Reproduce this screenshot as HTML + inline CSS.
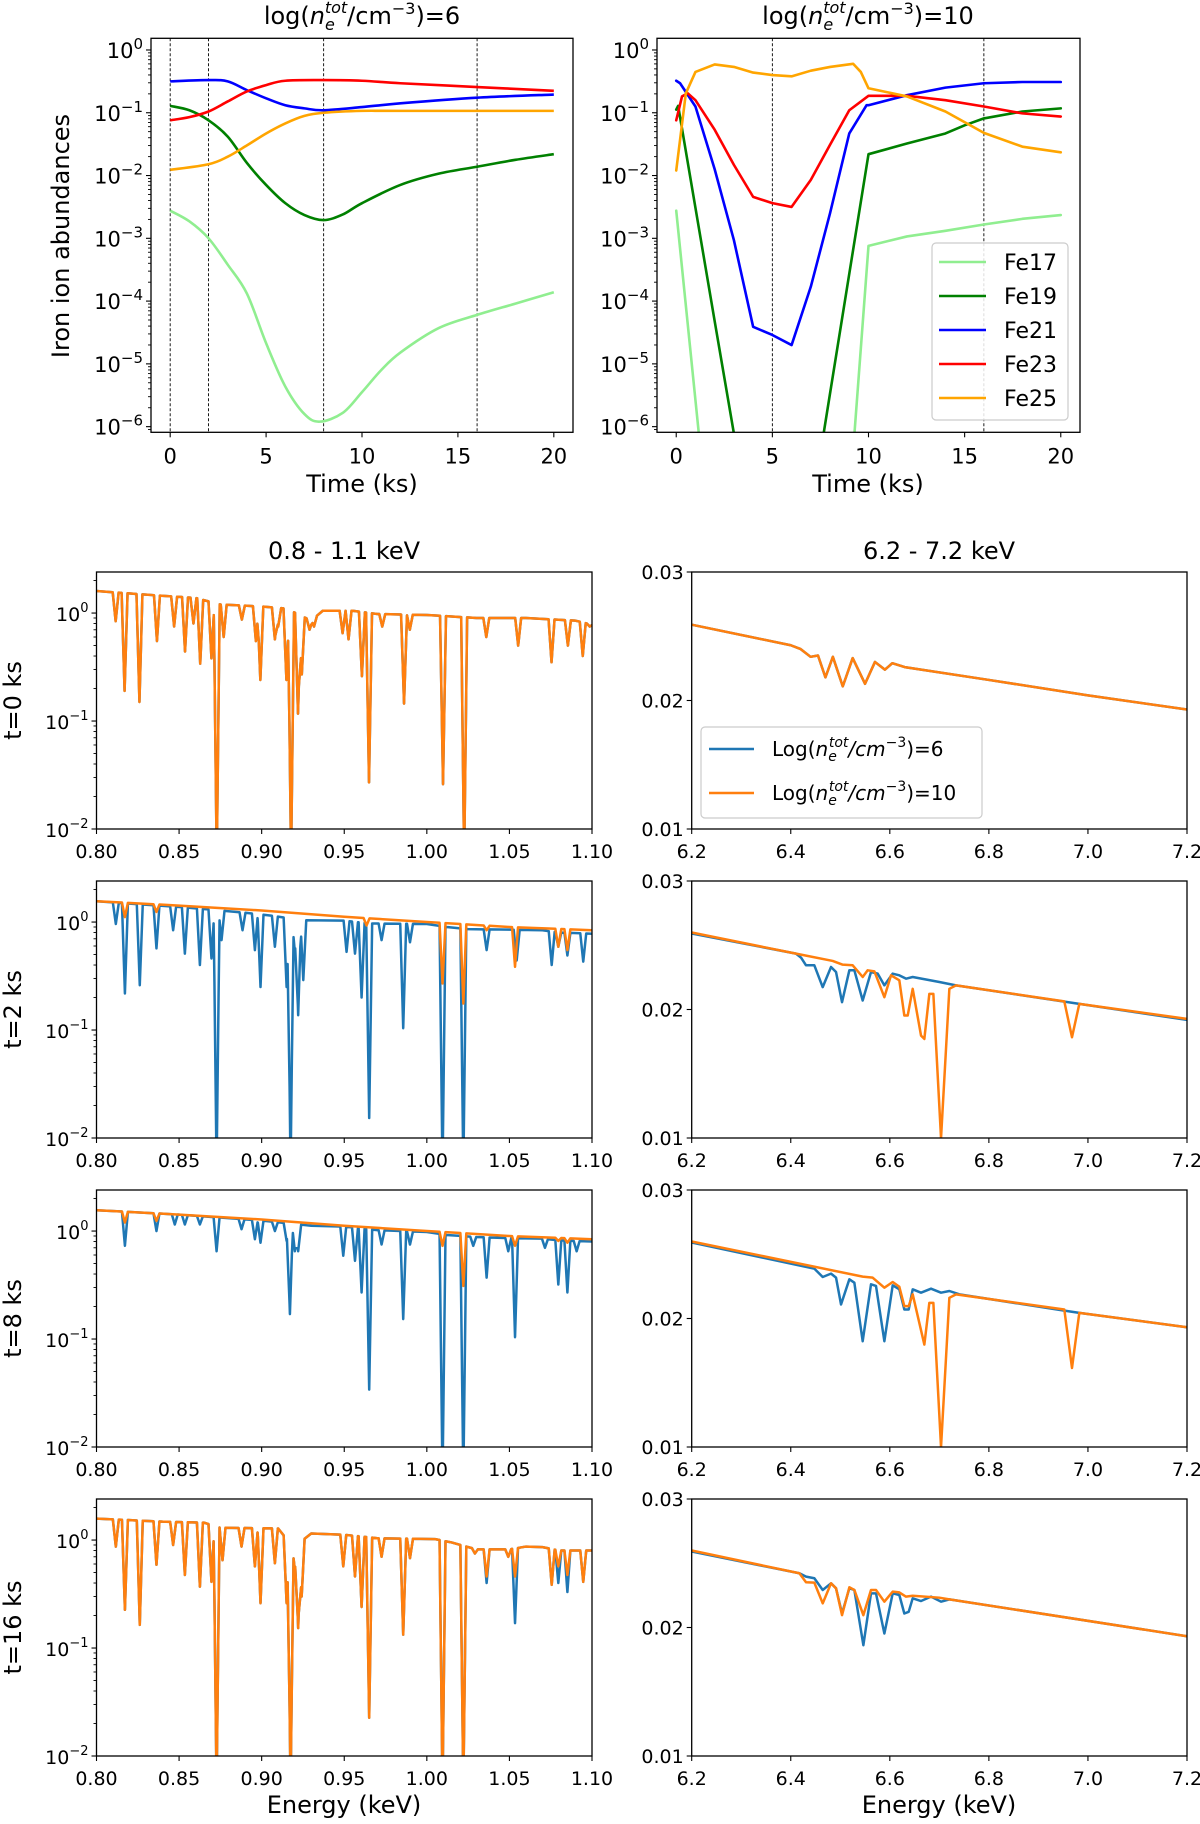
<!DOCTYPE html>
<html><head><meta charset="utf-8"><style>
html,body{margin:0;padding:0;background:#fff;}
svg{display:block;font-family:"DejaVu Sans","Liberation Sans",sans-serif;}
</style></head><body>
<svg id="fig" xmlns="http://www.w3.org/2000/svg" width="1200" height="1824" viewBox="0 0 1200 1824">
<rect x="0" y="0" width="1200" height="1824" fill="#fff"/>
<text x="362" y="24" font-size="24" text-anchor="middle">log(<tspan font-style="italic">n</tspan><tspan font-size="16" dy="6" font-style="italic">e</tspan><tspan font-size="16" dx="-10" dy="-17" font-style="italic">tot</tspan><tspan dy="11">/cm</tspan><tspan font-size="16" dy="-10">−3</tspan><tspan dy="10">)=6</tspan></text>
<text x="868" y="24" font-size="24" text-anchor="middle">log(<tspan font-style="italic">n</tspan><tspan font-size="16" dy="6" font-style="italic">e</tspan><tspan font-size="16" dx="-10" dy="-17" font-style="italic">tot</tspan><tspan dy="11">/cm</tspan><tspan font-size="16" dy="-10">−3</tspan><tspan dy="10">)=10</tspan></text>
<text transform="translate(69,236) rotate(-90)" font-size="24" text-anchor="middle">Iron ion abundances</text>
<text x="362" y="492" font-size="24" text-anchor="middle">Time (ks)</text>
<text x="868" y="492" font-size="24" text-anchor="middle">Time (ks)</text>
<text x="344" y="559" font-size="24" text-anchor="middle">0.8 - 1.1 keV</text>
<text x="939" y="559" font-size="24" text-anchor="middle">6.2 - 7.2 keV</text>
<text x="344" y="1813" font-size="24" text-anchor="middle">Energy (keV)</text>
<text x="939" y="1813" font-size="24" text-anchor="middle">Energy (keV)</text>
</svg>
<script>
// ---------- Top panels: ion abundances (log10 values) ----------
const lowFe17T=[0,1,2,3,4,5,6,7,7.8,9,10,11,12,14,16,18,20];
const lowFe17V=[-2.56,-2.73,-3.0,-3.42,-3.88,-4.67,-5.36,-5.8,-5.92,-5.78,-5.45,-5.1,-4.82,-4.43,-4.22,-4.04,-3.86];
const lowFe19T=[0,1,2,3,4,5,6,7,8,9,10,12,14,16,18,20];
const lowFe19V=[-0.89,-0.96,-1.12,-1.38,-1.8,-2.15,-2.44,-2.63,-2.71,-2.62,-2.44,-2.15,-1.97,-1.86,-1.75,-1.66];
const lowFe21T=[0,2,3,4,5,6,7,8,10,12,16,20];
const lowFe21V=[-0.5,-0.48,-0.5,-0.64,-0.77,-0.88,-0.93,-0.96,-0.91,-0.85,-0.76,-0.71];
const lowFe23T=[0,1,2,3,4,5,6,8,10,12,16,20];
const lowFe23V=[-1.12,-1.07,-0.98,-0.82,-0.66,-0.56,-0.49,-0.48,-0.49,-0.53,-0.59,-0.65];
const lowFe25T=[0,2,3,4,5,6,7,8,10,12,20];
const lowFe25V=[-1.91,-1.82,-1.7,-1.52,-1.33,-1.17,-1.05,-1.0,-0.97,-0.97,-0.97];

const highFe17T=[0,2,8,10,12,14,16,18,20];
const highFe17V=[-2.56,-8.6,-11.3,-3.12,-2.97,-2.88,-2.78,-2.69,-2.63];
const highFe19T=[0,0.1,2,4,6,8,10,12,14,15,16,18,20];
const highFe19V=[-0.95,-0.89,-4.32,-7.9,-9.3,-5.47,-1.66,-1.49,-1.33,-1.2,-1.09,-0.98,-0.93];
const highFe21T=[0,0.2,1,2,3,4,5,6,7,8,9,9.9,10,12,14,16,18,20];
const highFe21V=[-0.49,-0.53,-0.9,-1.9,-3.03,-4.41,-4.54,-4.7,-3.77,-2.6,-1.33,-0.88,-0.88,-0.72,-0.6,-0.53,-0.51,-0.51];
const highFe23T=[0,0.3,0.6,1,2,3,4,5,6,7,8,9,10,12,14,16,18,20];
const highFe23V=[-1.12,-0.74,-0.69,-0.8,-1.27,-1.83,-2.34,-2.44,-2.5,-2.07,-1.51,-0.96,-0.73,-0.73,-0.8,-0.9,-1.01,-1.06];
const highFe25T=[0,0.2,0.5,1,2,3,4,5,6,7,8,9.2,9.6,10,12,14,16,18,20];
const highFe25V=[-1.92,-1.43,-0.69,-0.35,-0.23,-0.27,-0.36,-0.4,-0.42,-0.33,-0.27,-0.22,-0.35,-0.61,-0.74,-0.98,-1.32,-1.54,-1.63];

const lowSnapshotTimes=[0,2,8,16];
const highSnapshotTimes=[5,16];
const timeTicks=[0,5,10,15,20];
const ionNames=['Fe17','Fe19','Fe21','Fe23','Fe25'];

// ---------- Soft band (0.8-1.1 keV) ----------
const softT0ContE=[0.80,0.83,0.86,0.875,0.90,0.915,0.93,0.937,0.955,0.97,1.00,1.03,1.06,1.09,1.10];
const softT0ContF=[1.6,1.48,1.38,1.2,1.15,1.1,0.85,1.05,1.05,0.98,0.96,0.9,0.9,0.85,0.78];
const softT0LineE=[0.8116,0.817,0.826,0.8366,0.847,0.8536,0.8587,0.8628,0.8696,0.8728,0.877,0.888,0.8965,0.8992,0.908,0.910,0.915,0.9178,0.922,0.9243,0.929,0.9317,0.949,0.9526,0.9607,0.965,0.973,0.9862,0.9897,1.0098,1.0226,1.036,1.0553,1.0755,1.0854,1.0944,1.0986];
const softT0LineMin=[0.84,0.19,0.15,0.55,0.75,0.44,0.8,0.34,0.38,0.005,0.6,0.87,0.55,0.24,0.57,0.75,0.24,0.005,0.117,0.27,0.7,0.75,0.65,0.57,0.26,0.027,0.75,0.145,0.7,0.026,0.005,0.6,0.5,0.35,0.5,0.4,0.75];

const softOrangeContE=[0.80,0.85,0.90,0.95,1.00,1.05,1.10];
const softOrangeContF=[1.56,1.42,1.28,1.12,1.0,0.9,0.84];

const softT2BlueContE=[0.80,0.82,0.85,0.87,0.89,0.905,0.925,0.95,0.965,1.00,1.012,1.025,1.05,1.07,1.08,1.10];
const softT2BlueContF=[1.56,1.48,1.38,1.3,1.22,1.15,1.04,1.03,0.97,0.96,0.9,0.86,0.85,0.84,0.8,0.78];
const softT2BlueLineE=[0.8117,0.8172,0.8262,0.8363,0.8464,0.8535,0.8626,0.8696,0.8727,0.8757,0.8884,0.8959,0.8993,0.9080,0.9151,0.9175,0.9201,0.9221,0.9252,0.9514,0.9565,0.9605,0.9651,0.9726,0.9857,0.9898,1.0095,1.0221,1.0362,1.0544,1.0756,1.0796,1.0851,1.0947];
const softT2BlueLineMin=[0.96,0.218,0.26,0.57,0.84,0.51,0.40,0.46,0.005,0.68,0.84,0.55,0.25,0.59,0.25,0.005,0.53,0.137,0.29,0.53,0.51,0.20,0.0153,0.68,0.104,0.65,0.005,0.005,0.55,0.44,0.40,0.59,0.49,0.43];
const softT2OrangeLineE=[0.8172,0.8363,0.9635,1.0095,1.0221,1.0362,1.0534,1.0796,1.0851];
const softT2OrangeLineMin=[1.11,1.24,0.93,0.27,0.176,0.84,0.385,0.59,0.55];

const softT8BlueContE=[0.80,0.85,0.90,0.93,0.95,0.97,1.00,1.012,1.03,1.05,1.07,1.08,1.10];
const softT8BlueContF=[1.56,1.42,1.25,1.12,1.1,1.02,0.98,0.92,0.88,0.86,0.85,0.82,0.8];
const softT8BlueLineE=[0.8172,0.8363,0.8474,0.8535,0.8626,0.8727,0.8878,0.8959,0.8993,0.9080,0.9151,0.9171,0.9201,0.9221,0.9494,0.9565,0.9605,0.9651,0.9726,0.9857,0.9898,1.0095,1.0221,1.0281,1.0362,1.0493,1.0534,1.0715,1.0796,1.0851,1.0907];
const softT8BlueLineMin=[0.73,1.0,1.15,1.15,1.15,0.65,1.04,0.84,0.78,1.0,0.81,0.17,0.65,0.65,0.59,0.53,0.27,0.034,0.75,0.153,0.75,0.005,0.005,0.73,0.37,0.65,0.104,0.70,0.32,0.27,0.65];
const softT8OrangeLineE=[0.8172,0.8363,1.0095,1.0221,1.0534,1.0796,1.0851];
const softT8OrangeLineMin=[1.2,1.24,0.73,0.31,0.73,0.81,0.78];

const softT16ContE=[0.80,0.84,0.865,0.875,0.91,0.918,0.925,0.93,0.95,0.97,1.005,1.015,1.03,1.05,1.06,1.07,1.08,1.10];
const softT16ContF=[1.58,1.48,1.45,1.3,1.28,0.9,1.0,1.15,1.12,1.04,1.02,0.95,0.82,0.82,0.87,0.86,0.8,0.8];
const softT16LineE=[0.8117,0.8172,0.8262,0.8363,0.8464,0.8535,0.8626,0.8696,0.8727,0.8763,0.8878,0.8959,0.8993,0.9080,0.9151,0.9175,0.9201,0.9221,0.9242,0.9494,0.9565,0.9605,0.9651,0.9726,0.9857,0.9898,1.0095,1.0221,1.0291,1.0362,1.0493,1.0534,1.0756,1.0796,1.0851,1.0947];
const softT16OrangeLineMin=[0.87,0.226,0.164,0.59,0.90,0.475,0.37,0.41,0.005,0.65,0.87,0.57,0.26,0.61,0.26,0.005,0.53,0.153,0.30,0.57,0.46,0.24,0.0226,0.70,0.133,0.68,0.005,0.005,0.75,0.46,0.70,0.46,0.385,0.57,0.475,0.41];
const softT16BlueLineMin=[0.87,0.226,0.164,0.59,0.90,0.475,0.37,0.41,0.005,0.65,0.87,0.57,0.26,0.61,0.26,0.005,0.53,0.153,0.30,0.57,0.46,0.24,0.0226,0.70,0.133,0.68,0.005,0.005,0.75,0.40,0.70,0.17,0.385,0.40,0.33,0.41];

const softTicks=[0.80,0.85,0.90,0.95,1.00,1.05,1.10];
const softTickLabels=['0.80','0.85','0.90','0.95','1.00','1.05','1.10'];

// ---------- Hard band (6.2-7.2 keV) ----------
const hardT0E=[6.2,6.4,6.42,6.44,6.455,6.47,6.485,6.505,6.525,6.55,6.57,6.59,6.605,6.63,6.8,7.0,7.2];
const hardT0F=[0.0259,0.0243,0.0240,0.0234,0.0235,0.0218,0.0234,0.0211,0.0233,0.0213,0.0230,0.0224,0.0229,0.0226,0.0216,0.0204,0.0193];
const hardT2BlueE=[6.2,6.4106,6.4207,6.4308,6.4476,6.4645,6.4813,6.4914,6.5035,6.5183,6.5284,6.5452,6.5620,6.5755,6.5890,6.6058,6.6192,6.6327,6.6462,6.7,6.7336,6.9490,6.9826,7.2];
const hardT2BlueF=[0.02591,0.02435,0.02404,0.02344,0.02344,0.02174,0.02331,0.02292,0.02057,0.02305,0.02305,0.0207,0.02292,0.02279,0.02188,0.02279,0.02266,0.0224,0.02253,0.02214,0.02188,0.02063,0.02044,0.01919];
const hardT2OrangeE=[6.2,6.4106,6.4847,6.5048,6.525,6.5452,6.5553,6.5688,6.5890,6.6024,6.6192,6.6293,6.6361,6.6462,6.6630,6.6697,6.6798,6.6879,6.7034,6.7202,6.7336,6.9523,6.9678,6.9826,7.2];
const hardT2OrangeF=[0.02599,0.02435,0.02378,0.02349,0.02344,0.02253,0.02305,0.02297,0.02096,0.02266,0.02227,0.01953,0.01953,0.02161,0.01797,0.01771,0.02122,0.02122,0.01,0.02161,0.02188,0.02063,0.01784,0.02044,0.01927];
const hardT8BlueE=[6.2,6.4476,6.4645,6.4813,6.4914,6.5015,6.5183,6.5284,6.5452,6.5620,6.5721,6.5890,6.6058,6.6192,6.6293,6.6381,6.6462,6.6630,6.6832,6.7034,6.7202,6.7404,6.9490,6.9826,7.2];
const hardT8BlueF=[0.02591,0.02388,0.02323,0.02349,0.02318,0.02109,0.02305,0.02279,0.01823,0.02266,0.02253,0.01823,0.02258,0.02227,0.0207,0.0207,0.02227,0.02201,0.02232,0.02201,0.02214,0.02188,0.02063,0.02044,0.01932];
const hardT8OrangeE=[6.2,6.5452,6.5654,6.5890,6.6058,6.6192,6.6293,6.6381,6.6462,6.6697,6.6798,6.6879,6.7034,6.7202,6.7336,6.9523,6.9678,6.9826,7.2];
const hardT8OrangeF=[0.02599,0.02326,0.02318,0.0224,0.02284,0.02247,0.02096,0.02096,0.02188,0.01797,0.02122,0.02122,0.01,0.02161,0.02188,0.0207,0.01615,0.02044,0.01932];
const hardT16BlueE=[6.2,6.4174,6.4308,6.4476,6.4645,6.4813,6.4914,6.5035,6.5183,6.5284,6.5466,6.5620,6.5721,6.5890,6.6058,6.6192,6.6293,6.6381,6.6462,6.6630,6.6832,6.7034,6.7202,7.2];
const hardT16BlueF=[0.02591,0.02422,0.02396,0.02383,0.02292,0.02344,0.02305,0.02109,0.02305,0.02292,0.01862,0.02266,0.02266,0.01953,0.02266,0.02253,0.02109,0.02122,0.02227,0.02206,0.0224,0.02201,0.02219,0.01932];
const hardT16OrangeE=[6.2,6.4174,6.4308,6.4476,6.4645,6.4813,6.4914,6.5035,6.5183,6.5284,6.5466,6.5620,6.5721,6.5890,6.6058,6.6192,6.6327,6.6462,6.7,6.7202,7.2];
const hardT16OrangeF=[0.02599,0.02422,0.02352,0.02349,0.02188,0.02344,0.02305,0.02096,0.02313,0.02292,0.02096,0.02292,0.02292,0.02201,0.02279,0.02273,0.0224,0.02247,0.02232,0.02219,0.01932];
const hardTicks=[6.2,6.4,6.6,6.8,7.0,7.2];
const hardTickLabels=['6.2','6.4','6.6','6.8','7.0','7.2'];
const hardYTicks=[0.01,0.02,0.03];
const hardYTickLabels=['0.01','0.02','0.03'];
const rowLabels=['t=0 ks','t=2 ks','t=8 ks','t=16 ks'];

// ---------- drawing ----------
const NS='http://www.w3.org/2000/svg';
const svg=document.getElementById('fig');
function mk(tag,attrs,parent){const e=document.createElementNS(NS,tag);for(const k in attrs)e.setAttribute(k,attrs[k]);(parent||svg).appendChild(e);return e;}
let clipN=0;
function makeAxes(name,fx,fy,fw,fh,xmin,xmax,ymin,ymax,ylog){
  const g=mk('g',{});
  
  
  const id='clip'+(clipN++);
  const cp=mk('clipPath',{id:id},g);
  mk('rect',{x:fx,y:fy,width:fw,height:fh},cp);
  const sx=v=>fx+(v-xmin)/(xmax-xmin)*fw;
  const sy=ylog?(v=>fy+fh-(Math.log10(Math.max(v,1e-30))-Math.log10(ymin))/(Math.log10(ymax)-Math.log10(ymin))*fh)
               :(v=>fy+fh-(v-ymin)/(ymax-ymin)*fh);
  const dataG=mk('g',{'clip-path':'url(#'+id+')'},g);
  return {g,dataG,sx,sy,fx,fy,fw,fh,xmin,xmax,ymin,ymax,ylog};
}
function frame(ax){
  const r=mk('rect',{x:ax.fx,y:ax.fy,width:ax.fw,height:ax.fh,fill:'none',stroke:'#000','stroke-width':1.3},ax.g);
  
  
}
function xTicks(ax,vals,labels,fs,off){
  vals.forEach((v,i)=>{
    const x=ax.sx(v);
    mk('line',{x1:x,x2:x,y1:ax.fy+ax.fh,y2:ax.fy+ax.fh+5,stroke:'#000','stroke-width':1.1},ax.g);
    if(labels){
      const t=mk('text',{x:x,y:ax.fy+ax.fh+off,'font-size':fs,'text-anchor':'middle'},ax.g);
      
      
      t.textContent=labels[i];
    }
  });
}
function yTicksLinear(ax,vals,labels,fs){
  vals.forEach((v,i)=>{
    const y=ax.sy(v);
    mk('line',{x1:ax.fx-5,x2:ax.fx,y1:y,y2:y,stroke:'#000','stroke-width':1.1},ax.g);
    const t=mk('text',{x:ax.fx-8,y:y+7,'font-size':fs,'text-anchor':'end'},ax.g);
    
    
    t.textContent=labels[i];
  });
}
function yTicksLog(ax,exps,fs){
  const lo=Math.floor(Math.log10(ax.ymin)),hi=Math.ceil(Math.log10(ax.ymax));
  for(let d=lo;d<=hi;d++){for(let m=2;m<=9;m++){const v=m*Math.pow(10,d);if(v<ax.ymin||v>ax.ymax)continue;const y=ax.sy(v);
    mk('line',{x1:ax.fx-3,x2:ax.fx,y1:y,y2:y,stroke:'#000','stroke-width':0.9},ax.g);}}
  exps.forEach(e=>{
    const y=ax.sy(Math.pow(10,e));
    mk('line',{x1:ax.fx-5,x2:ax.fx,y1:y,y2:y,stroke:'#000','stroke-width':1.1},ax.g);
    const t=mk('text',{x:ax.fx-8,y:y+8,'font-size':fs,'text-anchor':'end'},ax.g);
    
    
    const a=mk('tspan',{},t);a.textContent='10';
    const b=mk('tspan',{dy:-9,'font-size':Math.round(fs*0.7)},t);b.textContent=(e<0?'−'+(-e):''+e);
  });
}
function polyline(ax,xs,ys,color,w,name){
  const pts=xs.map((x,i)=>ax.sx(x).toFixed(2)+','+ax.sy(ys[i]).toFixed(2)).join(' ');
  const p=mk('polyline',{points:pts,fill:'none',stroke:color,'stroke-width':w,'stroke-linejoin':'round','stroke-linecap':'round'},ax.dataG);
  
  
  return p;
}
function smoothPath(ax,xs,ys,color,w,name){
  const P=xs.map((x,i)=>[ax.sx(x),ax.sy(ys[i])]);
  let d='M'+P[0][0]+','+P[0][1];
  for(let i=0;i<P.length-1;i++){
    const p0=P[Math.max(i-1,0)],p1=P[i],p2=P[i+1],p3=P[Math.min(i+2,P.length-1)];
    const c1=[p1[0]+(p2[0]-p0[0])/6,p1[1]+(p2[1]-p0[1])/6];
    const c2=[p2[0]-(p3[0]-p1[0])/6,p2[1]-(p3[1]-p1[1])/6];
    d+=' C'+c1[0]+','+c1[1]+' '+c2[0]+','+c2[1]+' '+p2[0]+','+p2[1];
  }
  const p=mk('path',{d:d,fill:'none',stroke:color,'stroke-width':w,'stroke-linejoin':'round'},ax.dataG);
  
  
}
function vline(ax,t,name){
  const x=ax.sx(t);
  const l=mk('line',{x1:x,x2:x,y1:ax.fy,y2:ax.fy+ax.fh,stroke:'#000','stroke-width':0.9,'stroke-dasharray':'3,2'},ax.dataG);
  
  
}
const ionColors=['#90ee90','#008000','#0000ff','#ff0000','#ffa500'];
const TOP_YMIN=Math.pow(10,-6.09),TOP_YMAX=Math.pow(10,0.186);
const pow10=a=>a.map(v=>Math.pow(10,v));

// top-left
const axA=makeAxes('abundance-panel-low-density',151,38.3,422,394,-1,21,TOP_YMIN,TOP_YMAX,true);
lowSnapshotTimes.forEach(t=>vline(axA,t,'snapshot-line'));
[[lowFe17T,lowFe17V],[lowFe19T,lowFe19V],[lowFe21T,lowFe21V],[lowFe23T,lowFe23V],[lowFe25T,lowFe25V]].forEach((s,i)=>smoothPath(axA,s[0],pow10(s[1]),ionColors[i],2.6,'line-'+ionNames[i].toLowerCase()));
frame(axA);xTicks(axA,timeTicks,timeTicks.map(String),21,31);yTicksLog(axA,[0,-1,-2,-3,-4,-5,-6],21);

// top-right
const axB=makeAxes('abundance-panel-high-density',657,38.3,423,394,-1,21,TOP_YMIN,TOP_YMAX,true);
highSnapshotTimes.forEach(t=>vline(axB,t,'snapshot-line'));
[[highFe17T,highFe17V],[highFe19T,highFe19V],[highFe21T,highFe21V],[highFe23T,highFe23V],[highFe25T,highFe25V]].forEach((s,i)=>polyline(axB,s[0],pow10(s[1]),ionColors[i],2.6,'line-'+ionNames[i].toLowerCase()));
frame(axB);xTicks(axB,timeTicks,timeTicks.map(String),21,31);yTicksLog(axB,[0,-1,-2,-3,-4,-5,-6],21);

// legend top
(function(){
  const g=mk('g',{});
  
  
  mk('rect',{x:932,y:243,width:136,height:177,rx:4,fill:'#fff','fill-opacity':0.85,stroke:'#cccccc','stroke-width':1.2},g);
  ionNames.forEach((n,i)=>{
    const y=262+i*34;
    const l=mk('line',{x1:939,x2:986,y1:y,y2:y,stroke:ionColors[i],'stroke-width':2.6},g);
    
    
    const t=mk('text',{x:1004,y:y+8,'font-size':22},g);
    
    
    t.textContent=n;
  });
})();

// soft spectrum builder
const HW=0.0018;
function contAt(cE,cF,e){
  if(e<=cE[0])return cF[0];
  for(let i=0;i<cE.length-1;i++){if(e<=cE[i+1]){const f=(e-cE[i])/(cE[i+1]-cE[i]);return Math.pow(10,Math.log10(cF[i])*(1-f)+Math.log10(cF[i+1])*f);}}
  return cF[cF.length-1];
}
function softSeries(cE,cF,lE,lM){
  const s=[];
  cE.forEach(e=>s.push([e,null]));
  lE.forEach((e,i)=>{s.push([e-HW,null]);s.push([e,lM[i]]);s.push([e+HW,null]);});
  s.sort((a,b)=>a[0]-b[0]);
  const xs=[],ys=[];
  s.forEach(p=>{if(p[0]<0.8||p[0]>1.1)return;const c=contAt(cE,cF,p[0]);
    let v=p[1]==null?c:Math.min(c,p[1]);
    if(p[1]==null){lE.forEach((e,i)=>{const d=Math.abs(p[0]-e);if(d<HW*0.999){const f=d/HW;const lv=Math.pow(10,Math.log10(Math.min(c,lM[i]))*(1-f)+Math.log10(c)*f);v=Math.min(v,lv);}});}
    xs.push(p[0]);ys.push(v);});
  return [xs,ys];
}
const rowTops=[572,881,1190,1499];
const RH=257;
const BLUE='#1f77b4',ORANGE='#ff7f0e';
const softRows=[
  [[softT0ContE,softT0ContF,softT0LineE,softT0LineMin],[softT0ContE,softT0ContF,softT0LineE,softT0LineMin]],
  [[softT2BlueContE,softT2BlueContF,softT2BlueLineE,softT2BlueLineMin],[softOrangeContE,softOrangeContF,softT2OrangeLineE,softT2OrangeLineMin]],
  [[softT8BlueContE,softT8BlueContF,softT8BlueLineE,softT8BlueLineMin],[softOrangeContE,softOrangeContF,softT8OrangeLineE,softT8OrangeLineMin]],
  [[softT16ContE,softT16ContF,softT16LineE,softT16BlueLineMin],[softT16ContE,softT16ContF,softT16LineE,softT16OrangeLineMin]]
];
const hardRows=[
  [[hardT0E,hardT0F],[hardT0E,hardT0F]],
  [[hardT2BlueE,hardT2BlueF],[hardT2OrangeE,hardT2OrangeF]],
  [[hardT8BlueE,hardT8BlueF],[hardT8OrangeE,hardT8OrangeF]],
  [[hardT16BlueE,hardT16BlueF],[hardT16OrangeE,hardT16OrangeF]]
];
rowTops.forEach((top,r)=>{
  const axS=makeAxes('soft-spectrum-'+r,96.5,top,495.5,RH,0.8,1.1,0.01,2.4,true);
  const b=softSeries(...softRows[r][0]);
  polyline(axS,b[0],b[1],BLUE,2.5,'spectrum-low-density');
  const o=softSeries(...softRows[r][1]);
  polyline(axS,o[0],o[1],ORANGE,2.5,'spectrum-high-density');
  frame(axS);
  xTicks(axS,softTicks,softTickLabels,19,29);
  yTicksLog(axS,[0,-1,-2],19);
  const axH=makeAxes('hard-spectrum-'+r,691.7,top,495.3,RH,6.2,7.2,0.01,0.03,false);
  polyline(axH,hardRows[r][0][0],hardRows[r][0][1],BLUE,2.5,'spectrum-low-density');
  polyline(axH,hardRows[r][1][0],hardRows[r][1][1],ORANGE,2.5,'spectrum-high-density');
  frame(axH);
  xTicks(axH,hardTicks,hardTickLabels,19,29);
  yTicksLinear(axH,hardYTicks,hardYTickLabels,19);
  const t=mk('text',{transform:'translate(21,'+(top+RH/2)+') rotate(-90)','font-size':24,'text-anchor':'middle'});
  
  
  t.textContent=rowLabels[r];
});

// legend bottom
(function(){
  const g=mk('g',{});
  
  
  mk('rect',{x:701,y:727,width:281,height:91,rx:4,fill:'#fff','fill-opacity':0.85,stroke:'#cccccc','stroke-width':1.2},g);
  const labs=['6','10'],cols=[BLUE,ORANGE];
  [749,793].forEach((y,i)=>{
    const l=mk('line',{x1:709,x2:754,y1:y,y2:y,stroke:cols[i],'stroke-width':2.6},g);
    
    
    const t=mk('text',{x:772,y:y+7,'font-size':20},g);
    
    
    const parts=[['Log(',{}],['n',{'font-style':'italic'}],['e',{'font-style':'italic','font-size':14,dy:5}],['tot',{'font-style':'italic','font-size':14,dx:-8,dy:-14}],['/cm',{'font-style':'italic',dy:9}],['−3',{'font-size':14,dy:-9}],[')='+labs[i],{dy:9}]];
    parts.forEach(p=>{const s=mk('tspan',p[1],t);s.textContent=p[0];});
  });
})();
</script>
</body></html>
